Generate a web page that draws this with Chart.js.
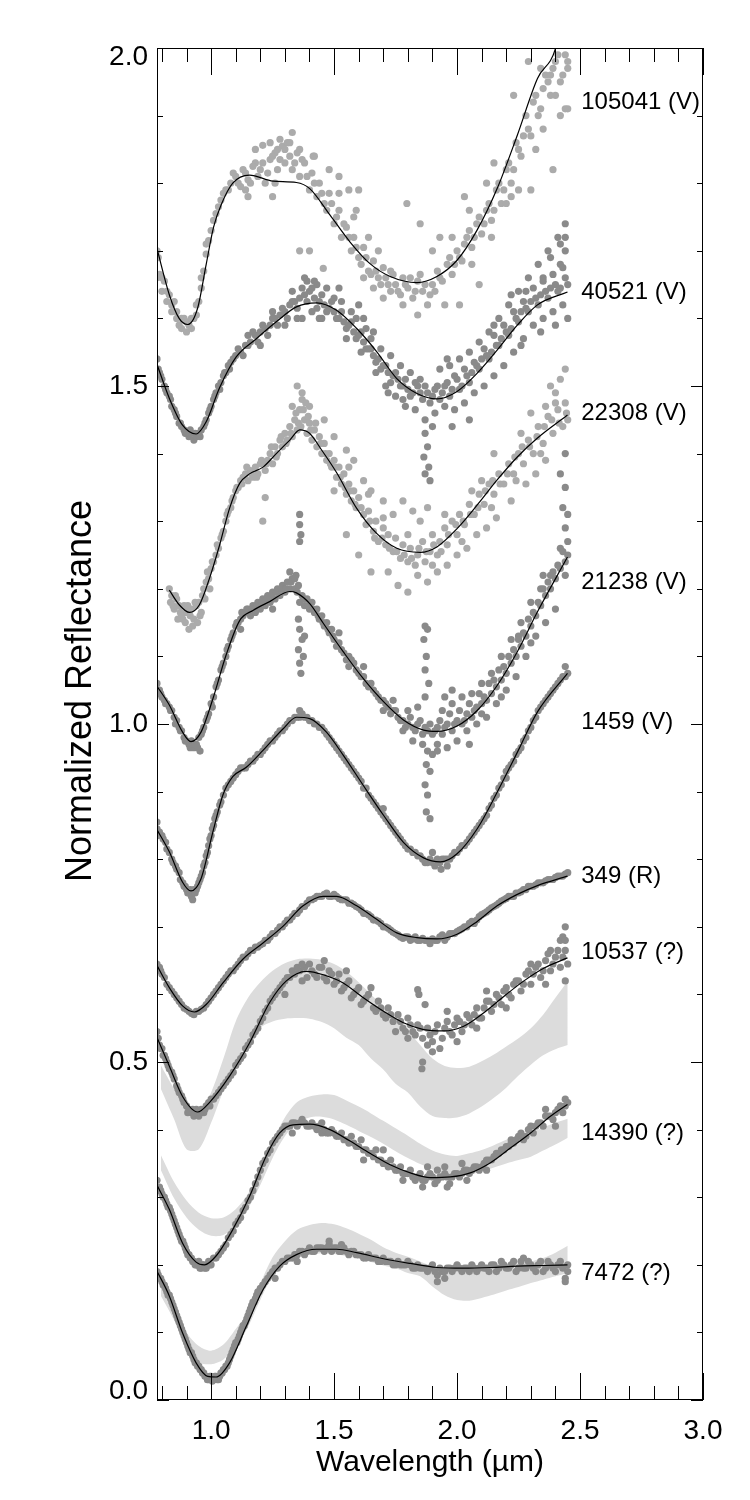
<!DOCTYPE html>
<html>
<head>
<meta charset="utf-8">
<script src="https://cdn.jsdelivr.net/npm/chart.js@4.4.1/dist/chart.umd.min.js"></script>
<style>
html,body{margin:0;padding:0;background:#fff;}
canvas{display:block;}
</style>
</head>
<body>
<canvas id="c" width="750" height="1500" style="width:750px;height:1500px"></canvas>
<script>
// ---------------- DATA ----------------
const xTickValues = [1.0, 1.5, 2.0, 2.5, 3.0];
const xTickLabels = ['1.0', '1.5', '2.0', '2.5', '3.0'];
const xMinorTicks = [0.8,0.9,1.1,1.2,1.3,1.4,1.6,1.7,1.8,1.9,2.1,2.2,2.3,2.4,2.6,2.7,2.8,2.9];
const yTickValues = [0.0, 0.5, 1.0, 1.5, 2.0];
const yTickLabels = ['0.0', '0.5', '1.0', '1.5', '2.0'];
const yMinorTicks = [0.1,0.2,0.3,0.4,0.6,0.7,0.8,0.9,1.1,1.2,1.3,1.4,1.6,1.7,1.8,1.9];

const asteroidNames = ['105041 (V)','40521 (V)','22308 (V)','21238 (V)','1459 (V)','349 (R)','10537 (?)','14390 (?)','7472 (?)'];
const labelY = [1.919, 1.638, 1.460, 1.209, 1.002, 0.775, 0.662, 0.395, 0.188];
const labelX = 2.505;

// model fits (black curves)
const fit105041 = [[0.78,1.703],[0.83,1.635],[0.87,1.600],[0.905,1.591],[0.945,1.615],[0.98,1.68],[1.01,1.735],[1.041,1.768],[1.088,1.800],[1.156,1.812],[1.252,1.803],[1.347,1.801],[1.401,1.792],[1.483,1.753],[1.565,1.713],[1.646,1.681],[1.728,1.662],[1.837,1.653],[1.918,1.662],[2.0,1.686],[2.082,1.731],[2.163,1.792],[2.245,1.871],[2.327,1.955],[2.401,2.0],[2.45,2.09]];
const fit40521 = [[0.778,1.534],[0.83,1.482],[0.884,1.442],[0.939,1.429],[0.98,1.447],[1.034,1.497],[1.102,1.543],[1.184,1.570],[1.265,1.595],[1.347,1.617],[1.429,1.623],[1.51,1.612],[1.592,1.585],[1.673,1.551],[1.755,1.511],[1.837,1.489],[1.918,1.481],[2.0,1.492],[2.082,1.519],[2.163,1.553],[2.245,1.590],[2.327,1.620],[2.449,1.639]];
const fit22308 = [[0.83,1.198],[0.871,1.176],[0.912,1.165],[0.952,1.176],[0.993,1.215],[1.034,1.264],[1.075,1.319],[1.116,1.356],[1.156,1.370],[1.211,1.380],[1.265,1.400],[1.32,1.420],[1.361,1.435],[1.40,1.430],[1.45,1.405],[1.51,1.372],[1.592,1.319],[1.673,1.282],[1.755,1.260],[1.85,1.254],[1.918,1.262],[2.0,1.289],[2.082,1.324],[2.163,1.361],[2.245,1.395],[2.327,1.423],[2.449,1.457]];
const fit21238 = [[0.778,1.057],[0.83,1.028],[0.884,0.988],[0.918,0.974],[0.959,0.988],[1.007,1.037],[1.061,1.102],[1.116,1.153],[1.17,1.168],[1.238,1.181],[1.32,1.196],[1.347,1.194],[1.401,1.178],[1.456,1.149],[1.537,1.107],[1.619,1.067],[1.701,1.033],[1.782,1.006],[1.864,0.991],[1.918,0.989],[2.0,0.997],[2.082,1.020],[2.163,1.057],[2.245,1.107],[2.327,1.166],[2.449,1.247]];
const fit1459 = [[0.778,0.845],[0.83,0.811],[0.884,0.766],[0.918,0.753],[0.959,0.771],[1.007,0.840],[1.048,0.895],[1.088,0.922],[1.143,0.936],[1.211,0.961],[1.293,0.993],[1.347,1.010],[1.401,1.008],[1.469,0.988],[1.537,0.954],[1.619,0.909],[1.701,0.865],[1.782,0.825],[1.864,0.802],[1.932,0.796],[2.0,0.808],[2.082,0.845],[2.163,0.899],[2.245,0.958],[2.327,1.018],[2.449,1.075]];
const fit349 = [[0.778,0.644],[0.83,0.610],[0.884,0.583],[0.932,0.574],[0.98,0.585],[1.048,0.617],[1.129,0.652],[1.211,0.676],[1.293,0.701],[1.374,0.731],[1.456,0.745],[1.51,0.745],[1.592,0.731],[1.673,0.711],[1.755,0.691],[1.837,0.684],[1.918,0.682],[2.0,0.689],[2.082,0.708],[2.163,0.731],[2.245,0.748],[2.327,0.761],[2.449,0.775]];
const fit10537 = [[0.778,0.538],[0.83,0.494],[0.884,0.449],[0.945,0.426],[0.993,0.440],[1.075,0.479],[1.156,0.528],[1.238,0.588],[1.306,0.620],[1.388,0.634],[1.456,0.629],[1.537,0.617],[1.619,0.595],[1.701,0.575],[1.782,0.558],[1.864,0.548],[1.946,0.546],[2.027,0.553],[2.109,0.573],[2.19,0.597],[2.272,0.620],[2.354,0.639],[2.449,0.654]];
const fit14390 = [[0.778,0.319],[0.83,0.282],[0.884,0.232],[0.939,0.204],[0.973,0.200],[1.020,0.213],[1.088,0.252],[1.156,0.301],[1.224,0.361],[1.279,0.395],[1.333,0.407],[1.401,0.408],[1.483,0.400],[1.565,0.383],[1.646,0.365],[1.728,0.348],[1.81,0.336],[1.891,0.329],[1.973,0.330],[2.054,0.336],[2.136,0.351],[2.218,0.373],[2.299,0.395],[2.381,0.420],[2.449,0.437]];
const fit7472 = [[0.778,0.192],[0.83,0.154],[0.884,0.099],[0.939,0.055],[0.986,0.035],[1.020,0.034],[1.075,0.055],[1.143,0.109],[1.211,0.163],[1.279,0.198],[1.347,0.215],[1.429,0.223],[1.51,0.223],[1.592,0.218],[1.701,0.209],[1.81,0.202],[1.918,0.196],[2.027,0.195],[2.136,0.196],[2.245,0.198],[2.354,0.199],[2.449,0.200]];

// observed spectra (dots)
const obs105041 = [[0.785,1.69],[0.79,1.665],[0.80,1.64],[0.81,1.655],[0.82,1.625],[0.83,1.635],[0.84,1.61],[0.85,1.625],[0.86,1.60],[0.87,1.59],[0.88,1.585],[0.89,1.60],[0.90,1.58],[0.91,1.59],[0.92,1.585],[0.93,1.60],[0.94,1.605],[0.95,1.625],[0.96,1.645],[0.97,1.67],[0.98,1.695],[0.99,1.715],[1.00,1.73],[1.02,1.755],[1.04,1.775],[1.06,1.79],[1.08,1.80],[1.10,1.81],[1.12,1.795],[1.14,1.815],[1.16,1.80],[1.18,1.83],[1.20,1.82],[1.22,1.80],[1.24,1.835],[1.26,1.845],[1.27,1.82],[1.29,1.855],[1.30,1.83],[1.31,1.86],[1.32,1.84],[1.33,1.82],[1.35,1.845],[1.36,1.81],[1.38,1.83],[1.40,1.79],[1.41,1.815],[1.43,1.78],[1.44,1.80],[1.46,1.77],[1.48,1.785],[1.50,1.74],[1.52,1.76],[1.53,1.72],[1.55,1.735],[1.57,1.70],[1.58,1.72],[1.60,1.69],[1.62,1.705],[1.64,1.67],[1.66,1.685],[1.68,1.66],[1.70,1.675],[1.72,1.65],[1.74,1.665],[1.76,1.64],[1.78,1.66],[1.80,1.645],[1.82,1.63],[1.84,1.655],[1.86,1.64],[1.88,1.62],[1.90,1.65],[1.92,1.67],[1.94,1.655],[1.96,1.68],[1.98,1.665],[2.00,1.70],[2.02,1.685],[2.04,1.72],[2.06,1.705],[2.08,1.74],[2.10,1.725],[2.12,1.76],[2.14,1.745],[2.16,1.79],[2.18,1.77],[2.20,1.82],[2.22,1.80],[2.24,1.86],[2.26,1.84],[2.28,1.90],[2.30,1.87],[2.32,1.93],[2.34,1.91],[2.36,1.96],[2.38,1.93],[2.40,1.98],[2.42,1.95],[2.44,1.99],[2.45,1.97],
 [1.28,1.865],[1.21,1.856],[1.415,1.84],[1.48,1.82],[1.52,1.81],[1.56,1.79],[1.60,1.79],[1.59,1.76],[1.796,1.77],[1.85,1.74],[1.93,1.72],[2.03,1.78],[2.05,1.76],[2.15,1.83],[2.23,1.93],[2.29,1.98],[2.34,1.97],[2.38,1.96],[2.45,1.98],[2.45,1.91],[2.39,1.82],[2.25,1.79],[2.30,1.79],[2.01,1.62],[2.09,1.65],[1.73,1.64],[1.78,1.62],[1.84,1.605],[1.36,1.70],[1.40,1.70],[1.456,1.674],[1.15,1.78],[1.25,1.78],[1.62,1.66],[1.66,1.645],[1.70,1.63],[1.95,1.62],[2.12,1.80],[2.20,1.77],[2.35,1.88],[2.42,1.90],[2.44,1.91],[0.78,1.70],[0.78,1.66],
 [0.80,1.66],[0.82,1.64],[0.84,1.62],[0.86,1.61],[0.88,1.60],[0.90,1.595],[0.92,1.60],[0.94,1.62],[0.96,1.66],[0.98,1.71],[1.01,1.745],[1.03,1.765],[1.05,1.785],[1.07,1.79],[1.09,1.815],[1.11,1.80],[1.13,1.82],[1.15,1.805],[1.17,1.825],[1.19,1.81],[1.21,1.83],[1.23,1.815],[1.25,1.84],[1.27,1.85],[1.28,1.835],[1.30,1.85],[1.32,1.86],[1.34,1.83],[1.36,1.85],[1.37,1.835],[1.39,1.81],[1.42,1.80],[1.45,1.785],[1.47,1.76],[1.49,1.77],[1.51,1.75],[1.54,1.74],[1.56,1.72],[1.59,1.705],[1.61,1.68],[1.63,1.69],[1.65,1.665],[1.67,1.67],[1.69,1.65],[1.71,1.66],[1.73,1.67],[1.75,1.65],[1.77,1.635],[1.79,1.65],[1.81,1.66],[1.83,1.64],[1.85,1.665],[1.87,1.65],[1.89,1.635],[1.91,1.64],[1.93,1.66],[1.97,1.69],[1.99,1.68],[2.01,1.69],[2.03,1.71],[2.05,1.73],[2.07,1.72],[2.09,1.75],[2.11,1.74],[2.13,1.77],[2.15,1.76],[2.17,1.80],[2.19,1.79],[2.21,1.83],[2.23,1.82],[2.25,1.85],[2.27,1.87],[2.29,1.88],[2.31,1.92],[2.33,1.90],[2.35,1.94],[2.37,1.95],[2.39,1.97],[2.41,1.99],[2.43,1.96],[1.18,1.85],[1.24,1.86],[1.33,1.875],[1.42,1.84],[1.26,1.80],[1.14,1.79],[1.52,1.785],[1.58,1.75],[1.64,1.72],[1.68,1.70],[1.90,1.70],[1.98,1.72],[2.06,1.68],[2.14,1.72],[2.22,1.78],[2.32,1.85],[2.40,1.93]];
const obs40521 = [[0.78,1.54],[0.785,1.525],[0.79,1.52],[0.80,1.51],[0.81,1.50],[0.82,1.49],[0.83,1.485],[0.84,1.47],[0.85,1.465],[0.86,1.455],[0.87,1.445],[0.88,1.44],[0.89,1.435],[0.90,1.43],[0.91,1.425],[0.92,1.43],[0.93,1.42],[0.94,1.425],[0.95,1.43],[0.96,1.435],[0.97,1.44],[0.98,1.45],[0.99,1.46],[1.00,1.47],[1.01,1.48],[1.02,1.49],[1.03,1.50],[1.04,1.505],[1.05,1.515],[1.06,1.52],[1.07,1.53],[1.08,1.535],[1.10,1.545],[1.12,1.55],[1.14,1.56],[1.16,1.565],[1.18,1.575],[1.20,1.58],[1.22,1.585],[1.24,1.59],[1.26,1.60],[1.28,1.605],[1.30,1.61],[1.32,1.62],[1.34,1.625],[1.36,1.63],[1.38,1.635],[1.40,1.64],[1.42,1.63],[1.44,1.625],[1.46,1.62],[1.48,1.615],[1.50,1.61],[1.52,1.60],[1.54,1.595],[1.56,1.59],[1.58,1.58],[1.60,1.575],[1.62,1.565],[1.64,1.555],[1.66,1.545],[1.68,1.54],[1.70,1.53],[1.72,1.52],[1.74,1.515],[1.76,1.51],[1.78,1.50],[1.80,1.495],[1.82,1.49],[1.84,1.50],[1.86,1.48],[1.88,1.49],[1.90,1.485],[1.92,1.50],[1.94,1.49],[1.96,1.505],[1.98,1.495],[2.00,1.51],[2.02,1.50],[2.04,1.515],[2.06,1.52],[2.08,1.53],[2.10,1.54],[2.12,1.545],[2.14,1.55],[2.16,1.56],[2.18,1.57],[2.20,1.58],[2.22,1.585],[2.24,1.60],[2.26,1.61],[2.28,1.615],[2.30,1.625],[2.32,1.63],[2.34,1.635],[2.36,1.64],[2.38,1.645],[2.40,1.65],[2.42,1.645],[2.44,1.66],
 [1.15,1.575],[1.2,1.56],[1.25,1.61],[1.3,1.59],[1.33,1.64],[1.37,1.60],[1.39,1.655],[1.41,1.61],[1.43,1.65],[1.45,1.60],[1.47,1.645],[1.50,1.63],[1.53,1.625],[1.55,1.57],[1.57,1.61],[1.59,1.60],[1.61,1.55],[1.63,1.585],[1.65,1.57],[1.67,1.52],[1.69,1.555],[1.71,1.50],[1.73,1.545],[1.75,1.485],[1.77,1.53],[1.79,1.47],[1.81,1.52],[1.83,1.465],[1.85,1.51],[1.87,1.45],[1.87,1.43],[1.88,1.41],[1.865,1.395],[1.885,1.38],[1.87,1.37],[1.89,1.36],[1.91,1.46],[1.93,1.525],[1.95,1.47],[1.97,1.53],[1.99,1.465],[2.01,1.54],[2.03,1.475],[2.05,1.55],[2.07,1.49],[2.09,1.565],[2.11,1.50],[2.13,1.58],[2.15,1.515],[2.17,1.60],[2.19,1.53],[2.21,1.62],[2.23,1.55],[2.25,1.64],[2.27,1.57],[2.29,1.66],[2.31,1.59],[2.33,1.68],[2.35,1.60],[2.37,1.70],[2.39,1.61],[2.41,1.72],[2.43,1.62],[2.44,1.74],[2.44,1.70],[2.42,1.68],[2.40,1.59],[2.45,1.60],[2.35,1.66],[2.28,1.64],[2.15,1.59],[2.05,1.45],[1.98,1.44],[1.96,1.54],[1.90,1.44],[1.78,1.48],[1.72,1.49],[1.66,1.58],[1.62,1.60],[1.44,1.60],[1.35,1.60],
 [0.795,1.515],[0.815,1.495],[0.835,1.48],[0.855,1.46],[0.875,1.445],[0.895,1.43],[0.915,1.435],[0.935,1.43],[0.955,1.425],[0.975,1.445],[0.995,1.465],[1.015,1.485],[1.035,1.495],[1.055,1.52],[1.075,1.525],[1.09,1.54],[1.11,1.555],[1.13,1.545],[1.15,1.56],[1.17,1.58],[1.19,1.565],[1.21,1.59],[1.23,1.575],[1.25,1.60],[1.27,1.59],[1.29,1.615],[1.31,1.60],[1.33,1.625],[1.35,1.615],[1.37,1.645],[1.39,1.625],[1.41,1.645],[1.43,1.615],[1.45,1.635],[1.47,1.61],[1.49,1.625],[1.51,1.60],[1.53,1.61],[1.55,1.585],[1.57,1.595],[1.59,1.57],[1.61,1.58],[1.63,1.555],[1.65,1.555],[1.67,1.535],[1.69,1.525],[1.71,1.53],[1.73,1.505],[1.75,1.52],[1.77,1.50],[1.79,1.51],[1.81,1.485],[1.83,1.505],[1.85,1.49],[1.87,1.50],[1.89,1.475],[1.91,1.495],[1.93,1.48],[1.95,1.50],[1.97,1.485],[1.99,1.515],[2.01,1.495],[2.03,1.525],[2.05,1.505],[2.07,1.535],[2.09,1.525],[2.11,1.555],[2.13,1.54],[2.15,1.575],[2.17,1.56],[2.19,1.59],[2.21,1.575],[2.23,1.61],[2.25,1.595],[2.27,1.625],[2.29,1.61],[2.31,1.645],[2.33,1.62],[2.35,1.655],[2.37,1.63],[2.39,1.665],[2.41,1.64],[2.43,1.675],[2.45,1.65],[2.44,1.72],[2.42,1.71],[2.38,1.69],[2.34,1.58],[2.26,1.56],[2.22,1.635],[1.60,1.62],[1.52,1.645],[1.42,1.655],[1.38,1.66]];
const obs22308 = [[0.83,1.20],[0.835,1.18],[0.84,1.19],[0.85,1.17],[0.86,1.185],[0.865,1.155],[0.87,1.175],[0.88,1.16],[0.89,1.175],[0.895,1.15],[0.90,1.165],[0.91,1.14],[0.915,1.16],[0.92,1.17],[0.93,1.155],[0.94,1.175],[0.945,1.15],[0.95,1.18],[0.96,1.165],[0.965,1.19],[0.97,1.20],[0.98,1.21],[0.99,1.215],[1.00,1.23],[1.01,1.24],[1.02,1.25],[1.03,1.26],[1.04,1.275],[1.05,1.285],[1.06,1.30],[1.07,1.315],[1.08,1.32],[1.09,1.335],[1.10,1.345],[1.11,1.35],[1.12,1.36],[1.13,1.365],[1.14,1.37],[1.15,1.36],[1.16,1.375],[1.17,1.365],[1.18,1.38],[1.19,1.37],[1.20,1.385],[1.22,1.375],[1.23,1.39],[1.24,1.40],[1.25,1.385],[1.26,1.41],[1.27,1.40],[1.28,1.42],[1.29,1.41],[1.30,1.43],[1.31,1.42],[1.32,1.44],[1.33,1.425],[1.34,1.45],[1.35,1.435],[1.36,1.465],[1.365,1.44],[1.37,1.48],[1.38,1.45],[1.39,1.43],[1.40,1.445],[1.41,1.42],[1.42,1.435],[1.43,1.41],[1.44,1.425],[1.45,1.40],[1.46,1.415],[1.47,1.39],[1.48,1.40],[1.49,1.38],[1.50,1.39],[1.51,1.365],[1.52,1.38],[1.53,1.355],[1.54,1.37],[1.55,1.34],[1.56,1.355],[1.57,1.33],[1.58,1.345],[1.59,1.32],[1.60,1.335],[1.62,1.31],[1.63,1.295],[1.64,1.315],[1.66,1.285],[1.67,1.30],[1.68,1.27],[1.70,1.29],[1.71,1.265],[1.72,1.28],[1.74,1.255],[1.75,1.275],[1.77,1.245],[1.78,1.265],[1.80,1.24],[1.81,1.26],[1.83,1.235],[1.84,1.25],[1.86,1.27],[1.87,1.24],[1.89,1.255],[1.90,1.28],[1.92,1.25],[1.93,1.27],[1.95,1.29],[1.96,1.265],[1.98,1.30],[2.00,1.28],[2.01,1.31],[2.03,1.295],[2.05,1.325],[2.07,1.31],[2.09,1.34],[2.11,1.325],[2.13,1.355],[2.15,1.34],[2.17,1.37],[2.19,1.355],[2.21,1.385],[2.23,1.37],[2.25,1.40],[2.27,1.385],[2.29,1.42],[2.31,1.40],[2.33,1.44],[2.35,1.415],[2.37,1.455],[2.39,1.43],[2.41,1.465],[2.43,1.44],[2.44,1.475],[2.45,1.45],
 [1.22,1.335],[1.21,1.30],[1.35,1.50],[1.37,1.49],[1.33,1.47],[1.40,1.47],[1.46,1.45],[1.50,1.425],[1.55,1.405],[1.58,1.39],[1.62,1.36],[1.65,1.345],[1.70,1.33],[1.74,1.31],[1.78,1.33],[1.82,1.315],[1.85,1.30],[1.88,1.32],[1.72,1.225],[1.76,1.205],[1.80,1.195],[1.84,1.22],[1.88,1.21],[1.92,1.225],[1.96,1.235],[2.0,1.25],[2.04,1.26],[2.08,1.28],[2.12,1.29],[2.16,1.305],[2.22,1.33],[2.28,1.355],[2.32,1.37],[2.36,1.39],[2.38,1.50],[2.40,1.49],[2.42,1.51],[2.44,1.525],[2.36,1.47],[2.30,1.46],[2.26,1.43],[2.15,1.40],[2.10,1.36],[1.65,1.225],[1.60,1.25],[1.55,1.28],[1.50,1.345],
 [0.845,1.175],[0.855,1.19],[0.875,1.165],[0.885,1.155],[0.905,1.175],[0.925,1.145],[0.935,1.18],[0.955,1.16],[0.975,1.185],[0.985,1.225],[0.995,1.20],[1.005,1.24],[1.025,1.265],[1.045,1.28],[1.065,1.31],[1.085,1.33],[1.105,1.35],[1.125,1.355],[1.145,1.38],[1.165,1.37],[1.185,1.365],[1.205,1.39],[1.225,1.385],[1.245,1.41],[1.265,1.395],[1.285,1.425],[1.305,1.415],[1.325,1.43],[1.345,1.46],[1.355,1.445],[1.375,1.465],[1.385,1.475],[1.395,1.455],[1.405,1.435],[1.425,1.445],[1.445,1.415],[1.465,1.40],[1.485,1.385],[1.505,1.38],[1.525,1.365],[1.545,1.35],[1.565,1.345],[1.585,1.325],[1.61,1.32],[1.645,1.30],[1.665,1.275],[1.695,1.275],[1.725,1.26],[1.755,1.255],[1.785,1.25],[1.815,1.245],[1.845,1.26],[1.875,1.255],[1.905,1.265],[1.935,1.255],[1.965,1.28],[1.995,1.295],[2.025,1.30],[2.055,1.31],[2.085,1.32],[2.115,1.345],[2.145,1.36],[2.175,1.355],[2.205,1.37],[2.235,1.395],[2.265,1.41],[2.295,1.41],[2.325,1.425],[2.355,1.44],[2.385,1.45],[2.415,1.445],[2.445,1.46],[1.56,1.38],[1.64,1.34],[1.70,1.305],[1.80,1.28],[1.95,1.31],[2.02,1.27],[2.06,1.345],[2.14,1.32],[2.24,1.36],[2.34,1.40],[2.40,1.475],[1.90,1.235]];
const obs21238 = [[0.78,1.06],[0.785,1.045],[0.79,1.05],[0.80,1.04],[0.81,1.035],[0.82,1.03],[0.83,1.025],[0.84,1.02],[0.85,1.01],[0.86,1.005],[0.87,0.995],[0.88,0.99],[0.89,0.98],[0.90,0.975],[0.91,0.97],[0.915,0.965],[0.92,0.975],[0.93,0.965],[0.94,0.97],[0.95,0.98],[0.955,0.96],[0.96,0.985],[0.97,0.995],[0.98,1.005],[0.99,1.015],[1.00,1.03],[1.01,1.04],[1.02,1.055],[1.03,1.065],[1.04,1.08],[1.05,1.09],[1.06,1.10],[1.07,1.115],[1.08,1.125],[1.09,1.135],[1.10,1.145],[1.11,1.15],[1.12,1.155],[1.13,1.16],[1.14,1.165],[1.15,1.17],[1.16,1.16],[1.17,1.175],[1.18,1.165],[1.19,1.18],[1.20,1.17],[1.21,1.185],[1.22,1.175],[1.23,1.19],[1.24,1.18],[1.25,1.195],[1.26,1.185],[1.27,1.20],[1.28,1.19],[1.29,1.205],[1.30,1.195],[1.31,1.21],[1.32,1.20],[1.33,1.215],[1.34,1.20],[1.345,1.22],[1.35,1.195],[1.36,1.18],[1.37,1.19],[1.38,1.175],[1.39,1.185],[1.40,1.17],[1.41,1.18],[1.42,1.165],[1.43,1.17],[1.44,1.155],[1.45,1.16],[1.46,1.145],[1.47,1.15],[1.48,1.135],[1.49,1.14],[1.50,1.125],[1.52,1.12],[1.54,1.105],[1.56,1.10],[1.58,1.09],[1.60,1.075],[1.62,1.07],[1.64,1.055],[1.66,1.05],[1.68,1.04],[1.70,1.035],[1.72,1.025],[1.74,1.02],[1.76,1.01],[1.78,1.005],[1.80,1.00],[1.82,0.995],[1.84,1.00],[1.86,0.985],[1.88,0.99],[1.90,0.985],[1.92,0.995],[1.94,0.985],[1.96,1.00],[1.98,0.99],[2.00,1.005],[2.02,1.00],[2.04,1.015],[2.06,1.01],[2.08,1.025],[2.10,1.03],[2.12,1.035],[2.14,1.045],[2.16,1.055],[2.18,1.065],[2.20,1.075],[2.22,1.09],[2.24,1.10],[2.26,1.115],[2.28,1.13],[2.30,1.145],[2.32,1.16],[2.34,1.175],[2.36,1.19],[2.38,1.20],[2.40,1.215],[2.42,1.23],[2.44,1.24],[2.45,1.25],
 [1.36,1.31],[1.36,1.295],[1.365,1.28],[1.36,1.27],[1.355,1.155],[1.36,1.14],[1.37,1.125],[1.355,1.11],[1.375,1.10],[1.36,1.09],[1.365,1.075],[1.38,1.13],[1.12,1.14],[1.25,1.17],[1.32,1.225],[1.52,1.135],[1.56,1.085],[1.62,1.085],[1.70,1.02],[1.74,1.035],[1.78,0.99],[1.80,1.02],[1.82,0.975],[1.84,1.025],[1.86,0.97],[1.87,1.145],[1.88,1.14],[1.865,1.125],[1.875,1.10],[1.87,1.08],[1.885,1.06],[1.87,1.04],[1.88,0.96],[1.875,0.94],[1.89,0.93],[1.87,0.91],[1.88,0.895],[1.875,0.87],[1.89,0.86],[1.90,0.955],[1.92,0.97],[1.94,1.02],[1.96,0.965],[1.98,1.03],[2.00,0.975],[2.02,1.04],[2.04,0.99],[2.06,1.045],[2.08,1.00],[2.10,1.06],[2.12,1.01],[2.14,1.075],[2.16,1.03],[2.18,1.10],[2.20,1.05],[2.22,1.125],[2.24,1.07],[2.26,1.15],[2.28,1.10],[2.30,1.18],[2.32,1.13],[2.34,1.20],[2.36,1.15],[2.38,1.22],[2.40,1.17],[2.42,1.26],[2.44,1.29],[2.43,1.32],[2.44,1.35],[2.42,1.37],[2.44,1.40],[2.45,1.31],[2.35,1.22],[2.30,1.12],[2.25,1.13],[2.18,1.04],[2.05,0.97],[1.95,1.04],[1.92,0.96],[2.1,1.015],[1.98,1.05],
 [0.795,1.045],[0.815,1.03],[0.835,1.02],[0.855,1.00],[0.875,0.99],[0.895,0.975],[0.925,0.97],[0.945,0.965],[0.965,0.99],[0.985,1.01],[1.005,1.025],[1.025,1.06],[1.045,1.085],[1.065,1.11],[1.085,1.13],[1.105,1.15],[1.125,1.165],[1.145,1.17],[1.165,1.17],[1.185,1.175],[1.205,1.18],[1.225,1.185],[1.245,1.19],[1.265,1.195],[1.285,1.20],[1.305,1.20],[1.325,1.21],[1.34,1.215],[1.355,1.205],[1.375,1.185],[1.395,1.175],[1.415,1.17],[1.435,1.16],[1.455,1.15],[1.475,1.14],[1.495,1.13],[1.51,1.115],[1.53,1.11],[1.55,1.095],[1.57,1.095],[1.59,1.08],[1.61,1.07],[1.63,1.06],[1.65,1.06],[1.67,1.045],[1.69,1.035],[1.71,1.03],[1.73,1.015],[1.75,1.02],[1.77,1.005],[1.79,0.995],[1.81,1.01],[1.83,0.99],[1.85,1.005],[1.87,0.995],[1.89,1.00],[1.91,0.99],[1.93,1.005],[1.95,0.995],[1.97,1.015],[1.99,1.00],[2.01,1.02],[2.03,1.005],[2.05,1.03],[2.07,1.02],[2.09,1.045],[2.11,1.04],[2.13,1.06],[2.15,1.065],[2.17,1.08],[2.19,1.085],[2.21,1.10],[2.23,1.11],[2.25,1.125],[2.27,1.135],[2.29,1.155],[2.31,1.165],[2.33,1.18],[2.35,1.20],[2.37,1.21],[2.39,1.225],[2.41,1.235],[2.43,1.255],[2.44,1.22],[2.45,1.27]];
const obs1459 = [[0.78,0.845],[0.79,0.84],[0.80,0.835],[0.815,0.825],[0.83,0.81],[0.845,0.795],[0.86,0.785],[0.875,0.77],[0.89,0.76],[0.90,0.755],[0.91,0.75],[0.92,0.745],[0.93,0.755],[0.94,0.755],[0.95,0.765],[0.96,0.775],[0.97,0.79],[0.98,0.805],[0.99,0.82],[1.00,0.835],[1.01,0.85],[1.02,0.865],[1.035,0.88],[1.05,0.895],[1.07,0.91],[1.09,0.92],[1.11,0.93],[1.13,0.935],[1.15,0.94],[1.17,0.945],[1.19,0.955],[1.21,0.96],[1.23,0.97],[1.25,0.975],[1.27,0.985],[1.29,0.99],[1.31,1.0],[1.33,1.005],[1.35,1.01],[1.37,1.015],[1.39,1.01],[1.41,1.005],[1.43,1.0],[1.45,0.995],[1.47,0.985],[1.49,0.975],[1.51,0.965],[1.53,0.955],[1.55,0.945],[1.57,0.935],[1.59,0.925],[1.61,0.915],[1.63,0.905],[1.65,0.89],[1.67,0.88],[1.69,0.87],[1.71,0.86],[1.73,0.85],[1.75,0.84],[1.77,0.83],[1.79,0.82],[1.81,0.815],[1.83,0.81],[1.85,0.805],[1.87,0.795],[1.89,0.80],[1.91,0.79],[1.93,0.795],[1.95,0.80],[1.97,0.80],[1.99,0.81],[2.01,0.815],[2.03,0.82],[2.05,0.83],[2.07,0.84],[2.09,0.85],[2.11,0.86],[2.13,0.875],[2.15,0.89],[2.17,0.905],[2.19,0.92],[2.21,0.935],[2.23,0.945],[2.25,0.96],[2.27,0.975],[2.29,0.99],[2.31,1.005],[2.33,1.02],[2.35,1.03],[2.37,1.04],[2.39,1.05],[2.41,1.06],[2.43,1.07],[2.45,1.075],
 [1.935,0.785],[1.96,0.79],[1.90,0.81],[0.925,0.74],[1.36,1.02],[1.70,0.875],[2.20,0.92],[2.44,1.085],[0.78,0.855],
 [0.785,0.835],[0.805,0.83],[0.82,0.815],[0.84,0.80],[0.855,0.79],[0.87,0.78],[0.885,0.765],[0.895,0.76],[0.905,0.75],[0.915,0.755],[0.935,0.75],[0.945,0.76],[0.955,0.77],[0.965,0.78],[0.975,0.795],[0.985,0.81],[0.995,0.83],[1.005,0.845],[1.015,0.86],[1.025,0.87],[1.04,0.885],[1.06,0.905],[1.08,0.915],[1.10,0.925],[1.12,0.935],[1.14,0.935],[1.16,0.945],[1.18,0.95],[1.20,0.955],[1.22,0.965],[1.24,0.975],[1.26,0.98],[1.28,0.99],[1.30,0.995],[1.32,1.005],[1.34,1.01],[1.36,1.01],[1.38,1.01],[1.40,1.005],[1.42,1.0],[1.44,0.995],[1.46,0.99],[1.48,0.98],[1.50,0.97],[1.52,0.96],[1.54,0.95],[1.56,0.94],[1.58,0.93],[1.60,0.92],[1.62,0.905],[1.64,0.895],[1.66,0.885],[1.68,0.875],[1.70,0.865],[1.72,0.855],[1.74,0.845],[1.76,0.835],[1.78,0.825],[1.80,0.815],[1.82,0.81],[1.84,0.805],[1.86,0.80],[1.88,0.795],[1.90,0.795],[1.92,0.80],[1.94,0.80],[1.96,0.80],[1.98,0.805],[2.00,0.81],[2.02,0.82],[2.04,0.825],[2.06,0.835],[2.08,0.845],[2.10,0.855],[2.12,0.865],[2.14,0.88],[2.16,0.895],[2.18,0.91],[2.20,0.93],[2.22,0.94],[2.24,0.955],[2.26,0.965],[2.28,0.98],[2.30,0.995],[2.32,1.01],[2.34,1.025],[2.36,1.035],[2.38,1.045],[2.40,1.055],[2.42,1.065],[2.44,1.07]];
const obs349 = [[0.78,0.645],[0.795,0.635],[0.81,0.625],[0.83,0.61],[0.85,0.60],[0.87,0.59],[0.89,0.58],[0.91,0.575],[0.93,0.57],[0.95,0.575],[0.97,0.58],[0.99,0.59],[1.01,0.60],[1.03,0.61],[1.05,0.62],[1.07,0.63],[1.09,0.635],[1.11,0.645],[1.13,0.655],[1.15,0.66],[1.17,0.665],[1.19,0.67],[1.21,0.675],[1.23,0.68],[1.25,0.69],[1.27,0.695],[1.29,0.70],[1.31,0.71],[1.33,0.715],[1.35,0.72],[1.37,0.73],[1.39,0.735],[1.41,0.74],[1.43,0.745],[1.45,0.745],[1.47,0.75],[1.49,0.745],[1.51,0.745],[1.53,0.74],[1.55,0.74],[1.57,0.735],[1.59,0.73],[1.61,0.725],[1.63,0.72],[1.65,0.715],[1.67,0.71],[1.69,0.705],[1.71,0.70],[1.73,0.695],[1.75,0.69],[1.77,0.685],[1.79,0.685],[1.81,0.68],[1.83,0.685],[1.85,0.68],[1.87,0.68],[1.89,0.675],[1.91,0.68],[1.93,0.685],[1.95,0.68],[1.97,0.69],[1.99,0.69],[2.01,0.695],[2.03,0.70],[2.05,0.705],[2.07,0.705],[2.09,0.715],[2.11,0.72],[2.13,0.725],[2.15,0.73],[2.17,0.735],[2.19,0.74],[2.21,0.745],[2.23,0.745],[2.25,0.75],[2.27,0.755],[2.29,0.76],[2.31,0.76],[2.33,0.765],[2.35,0.765],[2.37,0.77],[2.39,0.77],[2.41,0.775],[2.43,0.775],[2.45,0.78],
 [0.79,0.64],[0.80,0.63],[0.82,0.615],[0.84,0.605],[0.86,0.595],[0.88,0.585],[0.90,0.578],[0.92,0.572],[0.94,0.575],[0.96,0.578],[0.98,0.585],[1.00,0.595],[1.02,0.605],[1.04,0.615],[1.06,0.625],[1.08,0.635],[1.10,0.64],[1.12,0.65],[1.14,0.655],[1.16,0.665],[1.18,0.67],[1.20,0.673],[1.22,0.68],[1.24,0.685],[1.26,0.69],[1.28,0.70],[1.30,0.705],[1.32,0.71],[1.34,0.72],[1.36,0.725],[1.38,0.73],[1.40,0.74],[1.42,0.742],[1.44,0.745],[1.46,0.748],[1.48,0.745],[1.50,0.748],[1.52,0.742],[1.54,0.74],[1.56,0.735],[1.58,0.733],[1.60,0.728],[1.62,0.72],[1.64,0.718],[1.66,0.71],[1.68,0.708],[1.70,0.70],[1.72,0.698],[1.74,0.692],[1.76,0.688],[1.78,0.683],[1.80,0.685],[1.82,0.682],[1.84,0.68],[1.86,0.683],[1.88,0.68],[1.90,0.682],[1.92,0.68],[1.94,0.688],[1.96,0.685],[1.98,0.69],[2.00,0.693],[2.02,0.697],[2.04,0.70],[2.06,0.708],[2.08,0.71],[2.10,0.718],[2.12,0.722],[2.14,0.728],[2.16,0.732],[2.18,0.738],[2.20,0.742],[2.22,0.745],[2.24,0.75],[2.26,0.752],[2.28,0.755],[2.30,0.76],[2.32,0.762],[2.34,0.765],[2.36,0.768],[2.38,0.77],[2.40,0.773],[2.42,0.775],[2.44,0.778]];
const obs10537 = [[0.78,0.545],[0.79,0.525],[0.80,0.52],[0.81,0.51],[0.82,0.50],[0.83,0.49],[0.84,0.485],[0.85,0.475],[0.86,0.465],[0.87,0.455],[0.88,0.45],[0.89,0.44],[0.90,0.435],[0.91,0.43],[0.92,0.425],[0.93,0.42],[0.94,0.43],[0.95,0.42],[0.96,0.43],[0.97,0.425],[0.98,0.435],[0.99,0.44],[1.00,0.445],[1.02,0.45],[1.04,0.46],[1.06,0.47],[1.08,0.48],[1.10,0.495],[1.12,0.505],[1.14,0.52],[1.16,0.53],[1.18,0.545],[1.20,0.56],[1.22,0.575],[1.24,0.59],[1.26,0.60],[1.28,0.61],[1.30,0.62],[1.32,0.625],[1.34,0.63],[1.36,0.635],[1.38,0.64],[1.39,0.625],[1.40,0.645],[1.42,0.63],[1.44,0.64],[1.46,0.625],[1.48,0.635],[1.50,0.615],[1.52,0.63],[1.54,0.61],[1.56,0.62],[1.58,0.60],[1.60,0.61],[1.62,0.59],[1.64,0.60],[1.66,0.58],[1.68,0.59],[1.70,0.57],[1.72,0.58],[1.74,0.56],[1.76,0.57],[1.78,0.55],[1.80,0.565],[1.82,0.545],[1.84,0.555],[1.86,0.535],[1.88,0.55],[1.90,0.53],[1.92,0.555],[1.94,0.535],[1.96,0.56],[1.98,0.54],[2.00,0.565],[2.02,0.545],[2.04,0.57],[2.06,0.555],[2.08,0.58],[2.10,0.565],[2.12,0.59],[2.14,0.575],[2.16,0.60],[2.18,0.585],[2.20,0.61],[2.22,0.595],[2.24,0.62],[2.26,0.605],[2.28,0.63],[2.30,0.615],[2.32,0.64],[2.34,0.625],[2.36,0.65],[2.38,0.635],[2.40,0.655],[2.42,0.64],[2.44,0.665],[2.45,0.645],
 [1.84,0.607],[1.845,0.60],[1.857,0.49],[1.86,0.50],[1.87,0.585],[1.90,0.515],[1.93,0.52],[1.88,0.525],[1.96,0.575],[2.0,0.53],[2.08,0.55],[2.12,0.605],[2.2,0.58],[2.3,0.645],[2.38,0.665],[2.42,0.68],[2.44,0.70],[2.43,0.685],[2.44,0.62],[2.36,0.615],[1.65,0.61],[1.55,0.635],[1.46,0.65],[1.30,0.60],[1.37,0.62],[1.75,0.545],[1.80,0.535],
 [0.785,0.535],[0.795,0.52],[0.805,0.51],[0.815,0.505],[0.825,0.495],[0.845,0.48],[0.865,0.46],[0.885,0.445],[0.905,0.425],[0.925,0.43],[0.935,0.425],[0.955,0.425],[0.975,0.43],[0.995,0.435],[1.01,0.445],[1.03,0.455],[1.05,0.465],[1.07,0.475],[1.09,0.485],[1.11,0.50],[1.13,0.51],[1.15,0.525],[1.17,0.54],[1.19,0.55],[1.21,0.565],[1.23,0.58],[1.25,0.595],[1.27,0.605],[1.29,0.615],[1.31,0.625],[1.33,0.635],[1.35,0.64],[1.37,0.645],[1.41,0.635],[1.43,0.625],[1.45,0.64],[1.47,0.62],[1.49,0.63],[1.51,0.62],[1.53,0.605],[1.55,0.615],[1.57,0.595],[1.59,0.605],[1.61,0.585],[1.63,0.595],[1.67,0.575],[1.69,0.58],[1.71,0.565],[1.73,0.57],[1.77,0.56],[1.79,0.545],[1.81,0.555],[1.83,0.54],[1.85,0.55],[1.89,0.54],[1.91,0.545],[1.95,0.55],[1.97,0.545],[1.99,0.555],[2.01,0.56],[2.03,0.555],[2.05,0.565],[2.07,0.57],[2.09,0.565],[2.11,0.58],[2.13,0.59],[2.15,0.585],[2.17,0.595],[2.19,0.605],[2.21,0.60],[2.23,0.615],[2.25,0.62],[2.27,0.615],[2.29,0.635],[2.31,0.63],[2.33,0.645],[2.35,0.635],[2.37,0.66],[2.39,0.645],[2.41,0.665],[2.43,0.655],[2.44,0.68]];
const obs14390 = [[0.78,0.325],[0.785,0.31],[0.79,0.315],[0.80,0.305],[0.81,0.30],[0.82,0.29],[0.83,0.285],[0.84,0.275],[0.85,0.265],[0.86,0.255],[0.87,0.245],[0.88,0.235],[0.89,0.23],[0.90,0.22],[0.91,0.215],[0.92,0.21],[0.93,0.205],[0.94,0.20],[0.95,0.205],[0.96,0.195],[0.97,0.20],[0.98,0.195],[0.99,0.205],[1.00,0.20],[1.01,0.21],[1.03,0.215],[1.05,0.225],[1.07,0.24],[1.09,0.25],[1.11,0.265],[1.13,0.28],[1.15,0.295],[1.17,0.31],[1.19,0.33],[1.21,0.35],[1.23,0.365],[1.25,0.38],[1.27,0.39],[1.29,0.40],[1.31,0.405],[1.33,0.41],[1.35,0.405],[1.37,0.415],[1.39,0.405],[1.41,0.41],[1.43,0.40],[1.45,0.41],[1.47,0.395],[1.49,0.40],[1.51,0.39],[1.53,0.395],[1.55,0.385],[1.57,0.39],[1.59,0.375],[1.61,0.385],[1.63,0.37],[1.65,0.365],[1.67,0.37],[1.69,0.355],[1.71,0.35],[1.73,0.355],[1.75,0.34],[1.77,0.345],[1.79,0.335],[1.81,0.34],[1.83,0.325],[1.85,0.335],[1.87,0.325],[1.89,0.335],[1.91,0.32],[1.93,0.33],[1.95,0.335],[1.97,0.32],[1.99,0.335],[2.01,0.33],[2.03,0.34],[2.05,0.335],[2.07,0.345],[2.09,0.34],[2.11,0.35],[2.13,0.355],[2.15,0.36],[2.17,0.365],[2.19,0.37],[2.21,0.375],[2.23,0.38],[2.25,0.39],[2.27,0.385],[2.29,0.40],[2.31,0.395],[2.33,0.41],[2.35,0.405],[2.37,0.42],[2.39,0.415],[2.41,0.43],[2.43,0.425],[2.45,0.44],
 [1.62,0.355],[1.70,0.37],[1.78,0.325],[1.86,0.315],[1.92,0.34],[1.96,0.315],[2.02,0.35],[2.04,0.325],[2.12,0.34],[2.22,0.385],[2.36,0.43],[2.40,0.405],[2.44,0.445],[1.45,0.395],[1.33,0.395],[1.95,0.345],[1.88,0.345],
 [0.795,0.31],[0.805,0.30],[0.815,0.295],[0.825,0.285],[0.835,0.28],[0.845,0.27],[0.855,0.26],[0.865,0.25],[0.875,0.24],[0.885,0.235],[0.895,0.225],[0.905,0.215],[0.915,0.21],[0.925,0.205],[0.935,0.20],[0.945,0.20],[0.955,0.195],[0.965,0.20],[0.975,0.195],[0.985,0.20],[0.995,0.20],[1.02,0.21],[1.04,0.22],[1.06,0.23],[1.08,0.245],[1.10,0.26],[1.12,0.27],[1.14,0.285],[1.16,0.30],[1.18,0.32],[1.20,0.34],[1.22,0.355],[1.24,0.37],[1.26,0.385],[1.28,0.395],[1.30,0.405],[1.32,0.405],[1.34,0.41],[1.36,0.41],[1.38,0.41],[1.40,0.405],[1.42,0.405],[1.44,0.405],[1.46,0.40],[1.48,0.395],[1.50,0.395],[1.52,0.39],[1.54,0.385],[1.56,0.38],[1.58,0.38],[1.60,0.375],[1.62,0.37],[1.64,0.365],[1.66,0.36],[1.68,0.355],[1.70,0.35],[1.72,0.345],[1.74,0.345],[1.76,0.34],[1.78,0.335],[1.80,0.335],[1.82,0.33],[1.84,0.33],[1.86,0.325],[1.88,0.33],[1.90,0.33],[1.92,0.325],[1.94,0.33],[1.96,0.33],[1.98,0.33],[2.00,0.335],[2.02,0.335],[2.04,0.34],[2.06,0.34],[2.08,0.345],[2.10,0.345],[2.12,0.355],[2.14,0.355],[2.16,0.365],[2.18,0.37],[2.20,0.375],[2.22,0.38],[2.24,0.385],[2.26,0.395],[2.28,0.39],[2.30,0.405],[2.32,0.405],[2.34,0.41],[2.36,0.42],[2.38,0.42],[2.40,0.425],[2.42,0.435],[2.44,0.435]];
const obs7472 = [[0.78,0.19],[0.785,0.185],[0.79,0.18],[0.80,0.175],[0.81,0.17],[0.82,0.16],[0.83,0.155],[0.84,0.145],[0.85,0.135],[0.86,0.125],[0.87,0.115],[0.88,0.105],[0.89,0.095],[0.90,0.085],[0.91,0.075],[0.92,0.07],[0.93,0.06],[0.94,0.055],[0.95,0.05],[0.96,0.045],[0.97,0.04],[0.98,0.035],[0.99,0.03],[1.00,0.035],[1.01,0.03],[1.02,0.035],[1.03,0.03],[1.04,0.04],[1.05,0.045],[1.06,0.05],[1.07,0.055],[1.08,0.065],[1.09,0.075],[1.10,0.085],[1.11,0.09],[1.12,0.10],[1.13,0.11],[1.14,0.115],[1.15,0.125],[1.16,0.135],[1.17,0.145],[1.18,0.15],[1.19,0.16],[1.20,0.165],[1.22,0.175],[1.24,0.185],[1.26,0.195],[1.28,0.20],[1.30,0.205],[1.32,0.21],[1.34,0.215],[1.36,0.22],[1.38,0.215],[1.40,0.225],[1.42,0.22],[1.44,0.225],[1.46,0.22],[1.48,0.23],[1.50,0.225],[1.52,0.22],[1.54,0.225],[1.56,0.215],[1.58,0.22],[1.60,0.215],[1.62,0.21],[1.64,0.215],[1.66,0.21],[1.68,0.205],[1.70,0.21],[1.72,0.205],[1.74,0.20],[1.76,0.205],[1.78,0.20],[1.80,0.205],[1.82,0.195],[1.84,0.20],[1.86,0.195],[1.88,0.19],[1.90,0.20],[1.92,0.185],[1.94,0.19],[1.96,0.195],[1.98,0.19],[2.00,0.20],[2.02,0.19],[2.04,0.195],[2.06,0.20],[2.08,0.19],[2.10,0.20],[2.12,0.195],[2.14,0.20],[2.16,0.19],[2.18,0.205],[2.20,0.195],[2.22,0.20],[2.24,0.19],[2.26,0.205],[2.28,0.195],[2.30,0.20],[2.32,0.19],[2.34,0.205],[2.36,0.195],[2.38,0.20],[2.40,0.19],[2.42,0.205],[2.44,0.18],[2.45,0.20],
 [1.92,0.175],[1.95,0.18],[1.35,0.205],[2.44,0.175],[1.48,0.235],[1.53,0.23],[2.27,0.21],[1.26,0.18],
 [0.795,0.18],[0.805,0.17],[0.815,0.165],[0.825,0.155],[0.835,0.15],[0.845,0.14],[0.855,0.13],[0.865,0.12],[0.875,0.11],[0.885,0.10],[0.895,0.09],[0.905,0.08],[0.915,0.07],[0.925,0.065],[0.935,0.055],[0.945,0.05],[0.955,0.045],[0.965,0.04],[0.975,0.035],[0.985,0.03],[0.995,0.035],[1.005,0.028],[1.015,0.035],[1.025,0.03],[1.035,0.035],[1.045,0.04],[1.055,0.045],[1.065,0.05],[1.075,0.06],[1.085,0.07],[1.095,0.08],[1.105,0.085],[1.115,0.095],[1.125,0.105],[1.135,0.11],[1.145,0.12],[1.155,0.13],[1.165,0.14],[1.175,0.145],[1.185,0.155],[1.195,0.16],[1.21,0.17],[1.23,0.18],[1.25,0.19],[1.27,0.195],[1.29,0.205],[1.31,0.21],[1.33,0.21],[1.35,0.215],[1.37,0.22],[1.39,0.22],[1.41,0.22],[1.43,0.225],[1.45,0.225],[1.47,0.225],[1.49,0.22],[1.51,0.225],[1.53,0.22],[1.55,0.22],[1.57,0.22],[1.59,0.215],[1.61,0.215],[1.63,0.21],[1.65,0.21],[1.67,0.21],[1.69,0.205],[1.71,0.205],[1.73,0.205],[1.75,0.20],[1.77,0.20],[1.79,0.20],[1.81,0.20],[1.83,0.195],[1.85,0.195],[1.87,0.195],[1.89,0.195],[1.91,0.19],[1.93,0.195],[1.95,0.19],[1.97,0.195],[1.99,0.195],[2.01,0.195],[2.03,0.195],[2.05,0.19],[2.07,0.195],[2.09,0.195],[2.11,0.195],[2.13,0.19],[2.15,0.20],[2.17,0.195],[2.19,0.20],[2.21,0.195],[2.23,0.205],[2.25,0.195],[2.27,0.195],[2.29,0.205],[2.31,0.195],[2.33,0.20],[2.35,0.19],[2.37,0.205],[2.39,0.195],[2.41,0.20],[2.43,0.195],[2.45,0.19]];

// uncertainty envelopes (light grey bands)
const bandX = [0.796,0.85,0.90,0.95,1.00,1.05,1.10,1.15,1.20,1.25,1.30,1.35,1.40,1.45,1.50,1.55,1.60,1.65,1.70,1.75,1.80,1.85,1.90,1.95,2.00,2.05,2.10,2.15,2.20,2.25,2.30,2.35,2.40,2.45];
const band10537Top = [0.495,0.46,0.43,0.425,0.455,0.505,0.56,0.595,0.618,0.635,0.646,0.652,0.653,0.651,0.645,0.634,0.618,0.60,0.583,0.568,0.547,0.525,0.505,0.494,0.491,0.493,0.501,0.511,0.523,0.535,0.55,0.57,0.595,0.62];
const band10537Bot = [0.46,0.415,0.371,0.371,0.41,0.458,0.50,0.53,0.551,0.56,0.564,0.565,0.564,0.559,0.55,0.536,0.525,0.505,0.489,0.468,0.455,0.434,0.42,0.417,0.418,0.424,0.434,0.447,0.462,0.48,0.496,0.51,0.519,0.525];
const band14390Top = [0.362,0.322,0.295,0.277,0.269,0.27,0.282,0.305,0.341,0.383,0.418,0.441,0.449,0.452,0.451,0.443,0.434,0.424,0.413,0.402,0.391,0.379,0.369,0.363,0.361,0.365,0.37,0.377,0.385,0.39,0.396,0.403,0.41,0.416];
const band14390Bot = [0.34,0.298,0.27,0.252,0.243,0.244,0.258,0.283,0.318,0.358,0.39,0.41,0.418,0.419,0.415,0.407,0.398,0.389,0.379,0.368,0.358,0.349,0.341,0.335,0.332,0.333,0.338,0.344,0.35,0.355,0.36,0.369,0.378,0.388];
const band7472Top = [0.174,0.14,0.10,0.08,0.073,0.082,0.105,0.13,0.172,0.211,0.235,0.252,0.259,0.262,0.26,0.254,0.246,0.237,0.226,0.218,0.212,0.205,0.198,0.194,0.193,0.193,0.195,0.197,0.199,0.202,0.205,0.21,0.218,0.228];
const band7472Bot = [0.154,0.118,0.079,0.056,0.053,0.06,0.079,0.108,0.148,0.183,0.201,0.21,0.215,0.217,0.216,0.213,0.209,0.204,0.199,0.195,0.188,0.183,0.168,0.155,0.148,0.147,0.151,0.156,0.162,0.167,0.173,0.178,0.183,0.188];

// ---------------- STYLE ----------------
const LIGHT = '#ababab';
const DARK = '#8a8a8a';
const BAND = '#dcdcdc';
const FONT = "'Liberation Sans', Arial, Helvetica, sans-serif";

const toXY = arr => arr.map(p => ({x: p[0], y: p[1]}));
const bandPts = ys => bandX.map((x, i) => ({x, y: ys[i]}));

const datasets = [];
function addBand(top, bot) {
  datasets.push({data: bandPts(top), showLine: true, borderWidth: 0, pointRadius: 0,
    backgroundColor: BAND, borderColor: 'rgba(0,0,0,0)', fill: '+1', tension: 0.3, order: 3});
  datasets.push({data: bandPts(bot), showLine: true, borderWidth: 0, pointRadius: 0,
    borderColor: 'rgba(0,0,0,0)', fill: false, tension: 0.3, order: 3});
}
addBand(band10537Top, band10537Bot);
addBand(band14390Top, band14390Bot);
addBand(band7472Top, band7472Bot);

const obsSets = [[obs105041, LIGHT],[obs40521, DARK],[obs22308, LIGHT],[obs21238, DARK],[obs1459, DARK],[obs349, DARK],[obs10537, DARK],[obs14390, DARK],[obs7472, DARK]];
obsSets.forEach(([arr, col]) => {
  datasets.push({data: toXY(arr), showLine: false, pointRadius: 3.6, pointBorderWidth: 0,
    pointBackgroundColor: col, backgroundColor: col, borderColor: col, order: 2});
});
[fit105041, fit40521, fit22308, fit21238, fit1459, fit349, fit10537, fit14390, fit7472].forEach(arr => {
  datasets.push({data: toXY(arr), showLine: true, pointRadius: 0, borderColor: '#000', borderWidth: 1.2,
    cubicInterpolationMode: 'monotone', fill: false, order: 1});
});

const framePlugin = {
  id: 'frame',
  beforeDraw(chart) {
    const c = chart.ctx;
    c.save(); c.fillStyle = '#fff'; c.fillRect(0, 0, chart.width, chart.height); c.restore();
  },
  afterDatasetsDraw(chart) {
    const c = chart.ctx, a = chart.chartArea, xs = chart.scales.x, ys = chart.scales.y;
    c.save();
    c.strokeStyle = '#000'; c.lineWidth = 1;
    c.strokeRect(a.left + 0.5, a.top + 0.5, a.right - a.left - 1, a.bottom - a.top - 1);
    c.beginPath();
    const xt = (v, len) => {
      const px = Math.round(xs.getPixelForValue(v)) + 0.5;
      c.moveTo(px, a.bottom); c.lineTo(px, a.bottom - len);
      c.moveTo(px, a.top); c.lineTo(px, a.top + len);
    };
    xMinorTicks.forEach(v => xt(v, 14));
    xTickValues.forEach(v => xt(v, 27));
    const yt = (v, len) => {
      const py = Math.round(ys.getPixelForValue(v)) + 0.5;
      c.moveTo(a.left, py); c.lineTo(a.left + len, py);
      c.moveTo(a.right, py); c.lineTo(a.right - len, py);
    };
    yMinorTicks.forEach(v => yt(v, 6));
    yTickValues.forEach(v => yt(v, 12));
    c.stroke();

    c.fillStyle = '#000';
    // y tick labels (end labels kept inside the axis span, as in the original)
    c.font = '28px ' + FONT;
    c.textAlign = 'right'; c.textBaseline = 'middle';
    yTickValues.forEach((v, i) => {
      let py = ys.getPixelForValue(v);
      py = Math.min(Math.max(py, a.top + 9), a.bottom - 9);
      c.fillText(yTickLabels[i], a.left - 9, py);
    });
    // spectrum labels
    c.font = '24px ' + FONT;
    c.textAlign = 'left'; c.textBaseline = 'middle';
    asteroidNames.forEach((n, i) => {
      c.fillText(n, xs.getPixelForValue(labelX), ys.getPixelForValue(labelY[i]));
    });
    // axis titles
    c.font = '30px ' + FONT;
    c.textAlign = 'center'; c.textBaseline = 'middle';
    c.fillText('Wavelength (\u00b5m)', (a.left + a.right) / 2, 1463);
    c.save();
    c.font = '36px ' + FONT;
    c.translate(81, 691);
    c.rotate(-Math.PI / 2);
    c.fillText('Normalized Reflectance', 0, 0);
    c.restore();
    c.restore();
  }
};

new Chart(document.getElementById('c'), {
  type: 'scatter',
  data: {datasets},
  options: {
    responsive: false, animation: false, devicePixelRatio: 1,
    layout: {padding: {top: 48, right: 47, left: 0, bottom: 0}},
    plugins: {legend: {display: false}, tooltip: {enabled: false}, filler: {drawTime: 'beforeDatasetsDraw'}},
    scales: {
      x: {
        type: 'linear', min: 0.78, max: 3.0,
        grid: {display: false, drawTicks: false}, border: {display: false},
        ticks: {color: '#000', font: {family: FONT, size: 28}, padding: 14, maxRotation: 0, autoSkip: false,
          callback: (v) => { const i = xTickValues.indexOf(v); return i >= 0 ? xTickLabels[i] : ''; }},
        afterBuildTicks: s => { s.ticks = xTickValues.map(v => ({value: v})); },
        afterFit: s => { s.height = 100; }
      },
      y: {
        type: 'linear', min: 0, max: 2.0,
        grid: {display: false, drawTicks: false}, border: {display: false},
        ticks: {display: false},
        afterBuildTicks: s => { s.ticks = yTickValues.map(v => ({value: v})); },
        afterFit: s => { s.width = 157; }
      }
    }
  },
  plugins: [framePlugin]
});
</script>
</body>
</html>
